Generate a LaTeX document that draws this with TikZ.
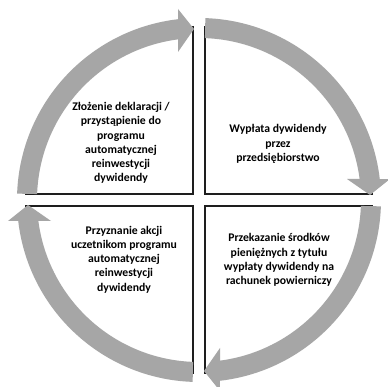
\documentclass[tikz,border=0pt]{standalone}
\usepackage{fontspec}
\setmainfont{Carlito}
\definecolor{arrowgray}{RGB}{166,166,166}
\definecolor{edgeblack}{RGB}{30,30,30}
\tikzset{
  cyclearrow/.style={fill=arrowgray, draw=none},
  quadedge/.style={draw=edgeblack, line width=1.6pt},
  stagetext/.style={align=center, font=\fontsize{11.7}{14.2}\selectfont\bfseries, text=black, inner sep=0pt}
}
\begin{document}
\begin{tikzpicture}[x=1pt,y=1pt]
\fill[white] (0,0) rectangle (388,387);
\useasboundingbox (0,0) rectangle (388,387);
\coordinate (C) at (199,187);
\foreach \rot in {0,-90,-180,-270}{
  \begin{scope}[shift={(C)}, rotate=\rot]
    \draw[quadedge] (-6,174) -- (-6,6) -- (-174,6);
  \end{scope}
}
\foreach \rot in {0,-90,-180,-270}{
  \begin{scope}[shift={(C)}, rotate=\rot]
    \fill[cyclearrow] (178:182) arc[start angle=178, end angle=96.6, radius=182pt]
      -- (-21,191) -- (-5,171) -- (-21,148)
      -- (97.45:162) arc[start angle=97.45, end angle=177.9, radius=162pt] -- cycle;
  \end{scope}
}
\node[stagetext] (tl) at (121,244) {Złożenie deklaracji /\\przystąpienie do\\programu\\automatycznej\\reinwestycji\\dywidendy};
\node[stagetext] (tr) at (278,243) {Wypłata dywidendy\\przez\\przedsiębiorstwo};
\node[stagetext] (br) at (279,127) {Przekazanie środków\\pieniężnych z tytułu\\wypłaty dywidendy na\\rachunek powierniczy};
\node[stagetext] (bl) at (124,127.5) {Przyznanie akcji\\uczetnikom programu\\automatycznej\\reinwestycji\\dywidendy};
\end{tikzpicture}
\end{document}
